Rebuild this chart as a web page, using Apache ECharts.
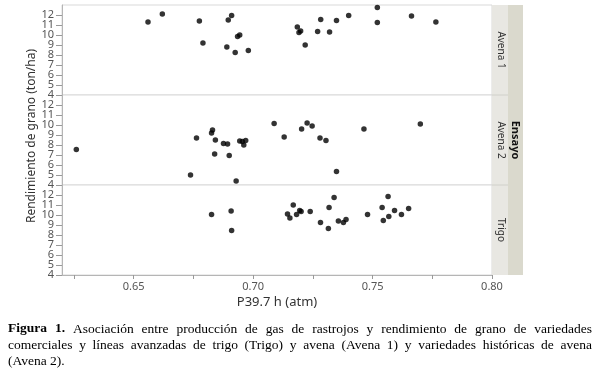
<!DOCTYPE html>
<html>
<head>
<meta charset="utf-8">
<script src="https://cdn.jsdelivr.net/npm/echarts@6/dist/echarts.min.js"></script>
<style>
html,body{margin:0;padding:0;background:#fff;}
#chart{width:600px;height:373px;}
</style>
</head>
<body>
<div id="chart"></div>
<script>
// ---- Data ----
const panelNames = ["Avena 1", "Avena 2", "Trigo"];
const facetTitle = "Ensayo";
const xTitle = "P39.7 h (atm)";
const yTitle = "Rendimiento de grano (ton/ha)";
const xTickLabels = [0.65, 0.70, 0.75, 0.80];
const xMinorTicks = [0.625, 0.65, 0.675, 0.70, 0.725, 0.75, 0.775, 0.80];
const yTickLabels = [4, 5, 6, 7, 8, 9, 10, 11, 12];

const avena1X = [0.656, 0.662, 0.6775, 0.679, 0.6896, 0.691, 0.689, 0.6925, 0.6935, 0.6944, 0.698,
                 0.7185, 0.7199, 0.7192, 0.7218, 0.727, 0.7283, 0.732, 0.7349, 0.740, 0.752, 0.752, 0.7663, 0.7765];
const avena1Y = [11.3, 12.1, 11.4, 9.2, 11.5, 11.95, 8.8, 8.25, 9.85, 10.0, 8.45,
                 10.8, 10.4, 10.25, 9.0, 10.35, 11.55, 10.3, 11.45, 11.95, 12.75, 11.25, 11.9, 11.3];

const avena2X = [0.626, 0.6763, 0.6738, 0.683, 0.6826, 0.6842, 0.6839, 0.6876, 0.6893, 0.690, 0.6929,
                 0.6944, 0.6955, 0.6961, 0.6969, 0.7088, 0.713, 0.7203, 0.7226, 0.7247, 0.728, 0.7305,
                 0.7349, 0.7464, 0.770];
const avena2Y = [7.55, 8.7, 5.0, 9.5, 9.2, 8.5, 7.1, 8.15, 8.1, 6.95, 4.4,
                 8.4, 8.35, 8.0, 8.45, 10.15, 8.8, 9.6, 10.2, 9.9, 8.7, 8.45,
                 5.35, 9.6, 10.1];

const trigoX = [0.6826, 0.6908, 0.691, 0.7144, 0.7154, 0.7168, 0.7182, 0.7195, 0.7201, 0.7239,
                0.7282, 0.7315, 0.7318, 0.7339, 0.7357, 0.7378, 0.7389, 0.7479, 0.754, 0.7545,
                0.7565, 0.7568, 0.7592, 0.7621, 0.7651];
const trigoY = [10.05, 10.4, 8.45, 10.1, 9.7, 11.0, 10.05, 10.45, 10.35, 10.35,
                9.25, 8.65, 10.75, 11.75, 9.4, 9.25, 9.55, 10.05, 10.75, 9.45,
                11.85, 9.85, 10.45, 10.05, 10.65];

const captionLines = [
  {bold: "Figura 1.", text: "Asociación entre producción de gas de rastrojos y rendimiento de grano de variedades", justify: true},
  {bold: "", text: "comerciales y líneas avanzadas de trigo (Trigo) y avena (Avena 1) y variedades históricas de avena", justify: true},
  {bold: "", text: "(Avena 2).", justify: false}
];

// ---- Layout ----
const gridLeft = 62, gridW = 430, panelH = 90, gridTop0 = 5;
const tickFont = '"Noto Sans", sans-serif';
const seriesXY = [[avena1X, avena1Y], [avena2X, avena2Y], [trigoX, trigoY]];

const grids = [], xAxes = [], yAxes = [], series = [];
for (let i = 0; i < 3; i++) {
  grids.push({left: gridLeft, top: gridTop0 + i * panelH, width: gridW, height: panelH,
    show: true, borderColor: '#d9d9d9', borderWidth: 1, backgroundColor: '#fff'});
  const isBottom = i === 2;
  xAxes.push({
    type: 'value', gridIndex: i, min: 0.62, max: 0.80,
    splitLine: {show: false},
    axisLine: {show: isBottom, lineStyle: {color: '#b5b5b5'}},
    axisTick: {show: isBottom, length: 4, lineStyle: {color: '#999'}, customValues: xMinorTicks},
    axisLabel: {show: isBottom, customValues: xTickLabels, color: '#555', fontSize: 11, fontFamily: tickFont,
      margin: 6, hideOverlap: false, formatter: v => v.toFixed(2)},
    name: isBottom ? xTitle : '', nameLocation: 'middle', nameGap: 21,
    nameTextStyle: {color: '#333', fontSize: 13, fontFamily: tickFont}
  });
  yAxes.push({
    type: 'value', gridIndex: i, min: 4, max: 13, interval: 1,
    splitLine: {show: false},
    axisLine: {show: true, lineStyle: {color: '#b5b5b5'}},
    axisTick: {show: true, length: 6, lineStyle: {color: '#999'}, customValues: yTickLabels},
    axisLabel: {show: false}
  });
  const [xs, ys] = seriesXY[i];
  series.push({
    type: 'scatter', xAxisIndex: i, yAxisIndex: i, name: panelNames[i],
    data: xs.map((x, k) => [x, ys[k]]),
    symbolSize: 5.5, itemStyle: {color: '#000'}, silent: true
  });
}

const chart = echarts.init(document.getElementById('chart'), null, {renderer: 'canvas'});
chart.setOption({
  animation: false,
  backgroundColor: '#fff',
  grid: grids, xAxis: xAxes, yAxis: yAxes, series: series
});

const graphics = [];
// Y tick labels placed through each panel's y axis scale
for (let i = 0; i < 3; i++) {
  yTickLabels.forEach(v => {
    const py = chart.convertToPixel({yAxisIndex: i}, v);
    graphics.push({type: 'text', x: gridLeft - 8, y: py,
      style: {text: String(v), fill: '#555', font: '11px ' + tickFont, align: 'right', verticalAlign: 'middle'}});
  });
}

// Strips
const stripX = gridLeft + gridW, innerW = 16, outerW = 15;
graphics.push({type: 'rect', shape: {x: stripX, y: gridTop0, width: innerW, height: 3 * panelH},
  style: {fill: '#e8e7e2', stroke: null}});
graphics.push({type: 'rect', shape: {x: stripX + innerW, y: gridTop0, width: outerW, height: 3 * panelH},
  style: {fill: '#dad9cd', stroke: null}});
for (let i = 1; i < 3; i++) {
  graphics.push({type: 'line', shape: {x1: stripX, y1: gridTop0 + i * panelH, x2: stripX + innerW, y2: gridTop0 + i * panelH},
    style: {stroke: '#d0d0ca', lineWidth: 1}});
}
panelNames.forEach((nm, i) => {
  graphics.push({type: 'text', x: stripX + innerW / 2 + 0.5, y: gridTop0 + i * panelH + panelH / 2, rotation: -Math.PI / 2,
    style: {text: nm, fill: '#333', font: '10px ' + tickFont, align: 'center', verticalAlign: 'middle'}});
});
graphics.push({type: 'text', x: stripX + innerW + outerW / 2, y: gridTop0 + 1.5 * panelH, rotation: -Math.PI / 2,
  style: {text: facetTitle, fill: '#111', font: 'bold 11px ' + tickFont, align: 'center', verticalAlign: 'middle'}});
// Y title
graphics.push({type: 'text', x: 32, y: 136, rotation: Math.PI / 2,
  style: {text: yTitle, fill: '#333', font: '12px ' + tickFont, align: 'center', verticalAlign: 'middle'}});

// Caption (justified)
const capFont = '"Liberation Serif", "Times New Roman", serif';
const capSize = 13.5, capLeft = 8, capRight = 592, capY0 = 329, capLead = 16;
const mctx = document.createElement('canvas').getContext('2d');
function measure(t, bold) { mctx.font = (bold ? 'bold ' : '') + capSize + 'px ' + capFont; return mctx.measureText(t).width; }
captionLines.forEach((ln, li) => {
  const words = [];
  if (ln.bold) ln.bold.split(' ').forEach(w => words.push({w, b: true}));
  ln.text.split(' ').forEach(w => words.push({w, b: false}));
  const widths = words.map(o => measure(o.w, o.b));
  const total = widths.reduce((a, b) => a + b, 0);
  const gap = ln.justify ? (capRight - capLeft - total) / (words.length - 1) : measure(' ', false);
  let x = capLeft;
  const y = capY0 + li * capLead;
  words.forEach((o, k) => {
    graphics.push({type: 'text', x: x, y: y,
      style: {text: o.w, fill: '#000', font: (o.b ? 'bold ' : '') + capSize + 'px ' + capFont, align: 'left', verticalAlign: 'middle'}});
    x += widths[k] + gap;
  });
});

chart.setOption({graphic: graphics});
</script>
</body>
</html>
